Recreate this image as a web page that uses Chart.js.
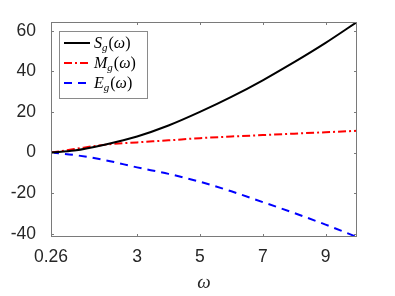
<!DOCTYPE html>
<html><head><meta charset="utf-8">
<script src="https://cdn.jsdelivr.net/npm/chart.js@4/dist/chart.umd.min.js"></script>
<style>html,body{margin:0;padding:0;background:#fff}#wrap{width:395px;height:296px}</style>
</head><body><div id="wrap"><canvas id="c" width="395" height="296"></canvas></div>
<script>
const omega = [0.26, 1, 2, 3, 4, 5, 6, 7, 8, 9, 10];
const S = [0, 1.0, 4.0, 7.9, 13.3, 20.0, 27.4, 35.6, 44.5, 54.0, 64.3];
const M = [0, 1.7, 3.9, 5.0, 6.0, 7.1, 7.9, 8.6, 9.3, 10.0, 10.7];
const E = [0, -1.2, -3.8, -7.3, -10.5, -14.4, -19.1, -24.4, -29.8, -35.5, -41.6];
const xTicks = [0.26, 3, 5, 7, 9];
const yTicks = [-40, -20, 0, 20, 40, 60];
const legendLabels = [["S","g","(ω)"],["M","g","(ω)"],["E","g","(ω)"]];

const pts = (ys) => omega.map((x, i) => ({x, y: ys[i]}));
const axisColor = '#7a7a7a';
const tickFont = {family: 'Liberation Sans, Arial, sans-serif', size: 17.5};

const boxPlugin = {
  id: 'box',
  afterDraw(chart) {
    const {ctx, chartArea: a, scales} = chart;
    ctx.save();
    ctx.strokeStyle = axisColor; ctx.lineWidth = 1;
    ctx.strokeRect(a.left + 0.5, a.top + 0.5, a.right - a.left - 1, a.bottom - a.top - 1);
    ctx.beginPath();
    xTicks.forEach(v => {
      const px = Math.round(scales.x.getPixelForValue(v)) + 0.5;
      ctx.moveTo(px, a.bottom); ctx.lineTo(px, a.bottom - 3);
      ctx.moveTo(px, a.top); ctx.lineTo(px, a.top + 3);
    });
    yTicks.forEach(v => {
      const py = Math.round(scales.y.getPixelForValue(v)) + 0.5;
      ctx.moveTo(a.left, py); ctx.lineTo(a.left + 3, py);
      ctx.moveTo(a.right, py); ctx.lineTo(a.right - 3, py);
    });
    ctx.stroke();
    // legend
    const lx = a.left + 8, ly = a.top + 9, lw = 88, lh = 67;
    ctx.fillStyle = '#fff';
    ctx.fillRect(lx, ly, lw, lh);
    ctx.strokeStyle = '#8a8a8a';
    ctx.strokeRect(lx + 0.5, ly + 0.5, lw, lh);
    chart.data.datasets.forEach((ds, i) => {
      const yy = ly + 12 + i * 20;
      ctx.strokeStyle = ds.borderColor; ctx.lineWidth = 2;
      ctx.setLineDash(ds.borderDash || []);
      ctx.beginPath(); ctx.moveTo(lx + 5, yy); ctx.lineTo(lx + 31, yy); ctx.stroke();
      ctx.setLineDash([]);
      const [a1, sub, rest] = legendLabels[i];
      ctx.fillStyle = '#000'; ctx.textBaseline = 'alphabetic'; ctx.textAlign = 'left';
      let tx = lx + 35;
      ctx.font = 'italic 16px "Liberation Serif", serif';
      ctx.fillText(a1, tx, yy + 5); tx += ctx.measureText(a1).width;
      ctx.font = 'italic 11px "Liberation Serif", serif';
      ctx.fillText(sub, tx, yy + 8); tx += ctx.measureText(sub).width + 1;
      ctx.font = '16px "Liberation Serif", serif';
      ctx.fillText('(', tx, yy + 5); tx += ctx.measureText('(').width;
      ctx.font = 'italic 16px "Liberation Serif", serif';
      ctx.fillText('ω', tx, yy + 5); tx += ctx.measureText('ω').width;
      ctx.font = '16px "Liberation Serif", serif';
      ctx.fillText(')', tx, yy + 5);
    });
    ctx.restore();
  }
};

new Chart(document.getElementById('c'), {
  type: 'line',
  data: {
    datasets: [
      {label: 'S_g(ω)', data: pts(S), borderColor: '#000000', borderWidth: 2, pointRadius: 0, cubicInterpolationMode: 'monotone'},
      {label: 'M_g(ω)', data: pts(M), borderColor: '#ff0000', borderWidth: 2, borderDash: [8, 3, 2, 3], pointRadius: 0, cubicInterpolationMode: 'monotone'},
      {label: 'E_g(ω)', data: pts(E), borderColor: '#0000ff', borderWidth: 2, borderDash: [8, 6], pointRadius: 0, cubicInterpolationMode: 'monotone'}
    ]
  },
  options: {
    responsive: false, animation: false,
    layout: {padding: {top: 22, right: 38, left: 0, bottom: 0}},
    plugins: {legend: {display: false}, tooltip: {enabled: false}},
    scales: {
      x: {
        type: 'linear', min: 0.26, max: 10,
        afterBuildTicks: s => { s.ticks = xTicks.map(v => ({value: v})); },
        afterFit: s => { s.height = 59; },
        grid: {display: false}, border: {display: false},
        ticks: {color: '#262626', font: tickFont, padding: 2, maxRotation: 0, autoSkip: false,
          callback: v => String(v)},
        title: {display: true, text: 'ω', color: '#262626', font: {family: 'Liberation Serif, serif', size: 19, style: 'italic'}, padding: {top: 0, bottom: 2}}
      },
      y: {
        type: 'linear', min: -41.6, max: 64.3,
        afterBuildTicks: s => { s.ticks = yTicks.map(v => ({value: v})); },
        afterFit: s => { s.width = 51; },
        grid: {display: false}, border: {display: false},
        ticks: {color: '#262626', font: tickFont, padding: 7, autoSkip: false}
      }
    }
  },
  plugins: [boxPlugin]
});
</script></body></html>
